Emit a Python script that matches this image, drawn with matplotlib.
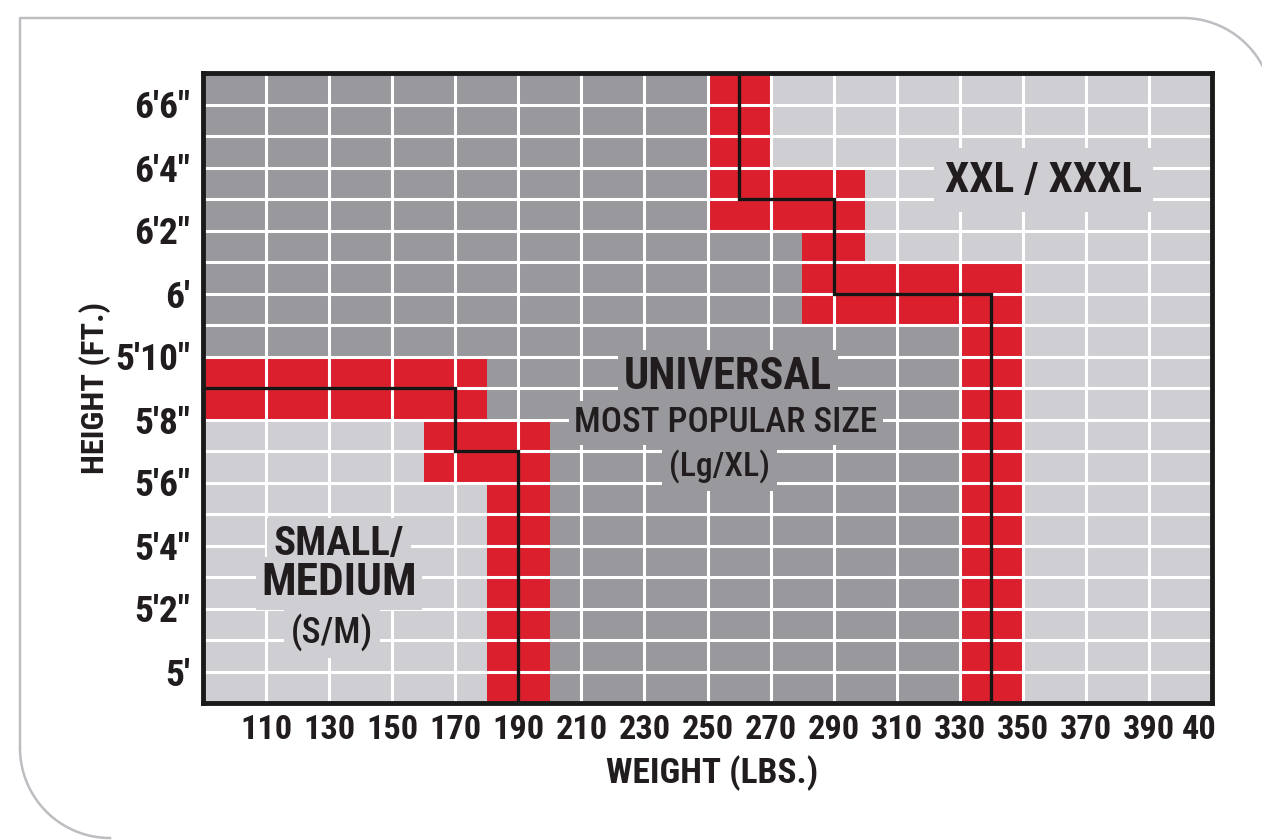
import matplotlib.pyplot as plt
import matplotlib.font_manager as fm
import numpy as np
from matplotlib.patches import Polygon, Rectangle
from matplotlib.textpath import TextPath

# ---- data ----
weight_ticks = [110, 130, 150, 170, 190, 210, 230, 250, 270, 290, 310, 330, 350, 370, 390, 410]
weight_labels = ["110", "130", "150", "170", "190", "210", "230", "250", "270", "290",
                 "310", "330", "350", "370", "390", "40"]
height_ticks = [60, 62, 64, 66, 68, 70, 72, 74, 76, 78]   # inches
height_labels = ["5'", "5'2\"", "5'4\"", "5'6\"", "5'8\"", "5'10\"", "6'", "6'2\"", "6'4\"", "6'6\""]
height_grid = list(range(60, 79))

# size boundaries (weight lbs, height inches)
small_w = [90, 170, 170, 190, 190]
small_h = [69, 69, 67, 67, 59]
xxl_w = [260, 260, 290, 290, 340, 340]
xxl_h = [79, 75, 75, 72, 72, 59]

x_min, x_max = 90, 410
y_min, y_max = 59, 79
half_w, half_h = 10, 1   # red band half width around the boundary

dark = '#99989d'
light = '#cfced3'
red = '#dc1f2d'
ink = '#211d1e'


# pick the narrowest installed face we can find
def pick_font(want):
    pref = ['liberation sans narrow', 'roboto condensed', 'dejavu sans condensed',
            'noto sans condensed', 'open sans condensed']
    best, best_key = None, None
    for f in fm.fontManager.ttflist:
        tag = (f.name + ' ' + str(f.stretch) + ' ' + f.fname).lower()
        if not ('narrow' in tag or 'condensed' in tag):
            continue
        if f.style != 'normal' or 'italic' in tag or 'oblique' in tag:
            continue
        w = f.weight if isinstance(f.weight, int) else fm.weight_dict.get(f.weight, 400)
        rank = next((i for i, p in enumerate(pref) if p in tag), len(pref))
        key = (rank, abs(w - want))
        if best_key is None or key < best_key:
            best, best_key = f, key
    if best is None:
        return fm.FontProperties(family='DejaVu Sans', weight=want)
    return fm.FontProperties(fname=best.fname)


BOLD = pick_font(700)
REG = pick_font(500)


def fit(s, width_px, cap_px, prop):
    w = TextPath((0, 0), s, size=10, prop=prop).get_extents().width * 100 / 72
    h = TextPath((0, 0), 'H', size=10, prop=prop).get_extents().height * 100 / 72
    return min(10 * width_px / w, 10 * cap_px / h)


fig = plt.figure(figsize=(12.62, 8.4), dpi=100)

# card outline in pixel coords
bg = fig.add_axes([0, 0, 1, 1], zorder=-1)
bg.set_xlim(0, 1262)
bg.set_ylim(840, 0)
bg.axis('off')
t = np.linspace(-np.pi / 2, 0, 60)
cx, cy, r = 1183, 108, 90
bg.plot(np.r_[20, 20, cx + r * np.cos(t)], np.r_[748, 18, cy + r * np.sin(t)],
        color='#bdbdc2', lw=1.8, solid_capstyle='butt')
t2 = np.linspace(np.pi, np.pi / 2, 60)
bg.plot(110 + r * np.cos(t2), 748 + r * np.sin(t2), color='#bdbdc2', lw=1.8)

ax = fig.add_axes([203 / 1262, 1 - 703 / 840, 1009 / 1262, 630 / 840])
ax.set_xlim(x_min, x_max)
ax.set_ylim(y_min, y_max)
ax.set_facecolor(dark)

# light regions
ax.add_patch(Polygon(list(zip(small_w + [x_min], small_h + [y_min])), closed=True,
                     facecolor=light, edgecolor='none', zorder=1))
ax.add_patch(Polygon(list(zip(xxl_w + [x_max, x_max], xxl_h + [y_min, y_max])), closed=True,
                     facecolor=light, edgecolor='none', zorder=1))

# red bands along each boundary segment
for ws, hs in [(small_w, small_h), (xxl_w, xxl_h)]:
    for i in range(len(ws) - 1):
        x0 = min(ws[i], ws[i + 1]) - half_w
        x1 = max(ws[i], ws[i + 1]) + half_w
        y0 = min(hs[i], hs[i + 1]) - half_h
        y1 = max(hs[i], hs[i + 1]) + half_h
        ax.add_patch(Rectangle((x0, y0), x1 - x0, y1 - y0, facecolor=red,
                               edgecolor='none', zorder=2))

# white grid
ax.vlines(weight_ticks[:-1], y_min, y_max, color='white', lw=2.2, zorder=3)
ax.hlines(height_grid, x_min, x_max, color='white', lw=2.2, zorder=3)

# boundary lines
ax.plot(small_w, small_h, color='#151515', lw=2.4, zorder=4, solid_joinstyle='miter')
ax.plot(xxl_w, xxl_h, color='#151515', lw=2.4, zorder=4, solid_joinstyle='miter')

for s in ax.spines.values():
    s.set_linewidth(3.5)
    s.set_color('#1a1a1a')
    s.set_zorder(6)

x_size = fit('110', 48, 31, BOLD)
y_size = fit("5'10\"", 72, 31, BOLD)
ax.set_xticks(weight_ticks[:-1])
ax.set_xticklabels(weight_labels[:-1])
ax.set_yticks(height_ticks)
ax.set_yticklabels(height_labels)
ax.tick_params(length=0, labelcolor=ink)
ax.tick_params(axis='x', pad=8)
ax.tick_params(axis='y', pad=9)
for lab in ax.get_xticklabels():
    lab.set_fontproperties(BOLD)
    lab.set_fontsize(x_size)
for lab in ax.get_yticklabels():
    lab.set_fontproperties(BOLD)
    lab.set_fontsize(y_size)
# last weight label sits flush with the right frame edge
ax.annotate(weight_labels[-1], (weight_ticks[-1], y_min), xytext=(3, -8),
            textcoords='offset points', ha='right', va='top',
            fontproperties=BOLD, fontsize=x_size, color=ink, annotation_clip=False)

fig.text(712 / 1262, 1 - 773 / 840, 'WEIGHT (LBS.)', ha='center', va='center',
         fontproperties=BOLD, fontsize=fit('WEIGHT (LBS.)', 210, 31, BOLD), color=ink)
fig.text(95 / 1262, 1 - 388 / 840, 'HEIGHT (FT.)', ha='center', va='center', rotation=90,
         fontproperties=BOLD, fontsize=fit('HEIGHT (FT.)', 168, 32, BOLD), color=ink)


def label(x, y, s, width_px, cap_px, prop, bgc, pad=3):
    ax.text(x, y, s, ha='center', va='center', fontproperties=prop,
            fontsize=fit(s, width_px, cap_px, prop), color=ink, zorder=5,
            bbox=dict(facecolor=bgc, edgecolor='none', pad=pad))


label(356.6, 75.6, 'XXL / XXXL', 195, 42, BOLD, light, pad=8)
label(256.4, 69.35, 'UNIVERSAL', 205, 38, BOLD, dark, pad=4)
label(255.8, 67.9, 'MOST POPULAR SIZE', 300, 26, REG, dark, pad=4)
label(253.9, 66.5, '(Lg/XL)', 97, 27, REG, dark, pad=5)
label(133.1, 64.05, 'SMALL/', 128, 35, BOLD, light, pad=5)
label(133.1, 62.8, 'MEDIUM', 150, 37, BOLD, light, pad=4)
label(130.9, 61.25, '(S/M)', 78, 28, REG, light, pad=5)

fig.savefig('out.png', dpi=100)
